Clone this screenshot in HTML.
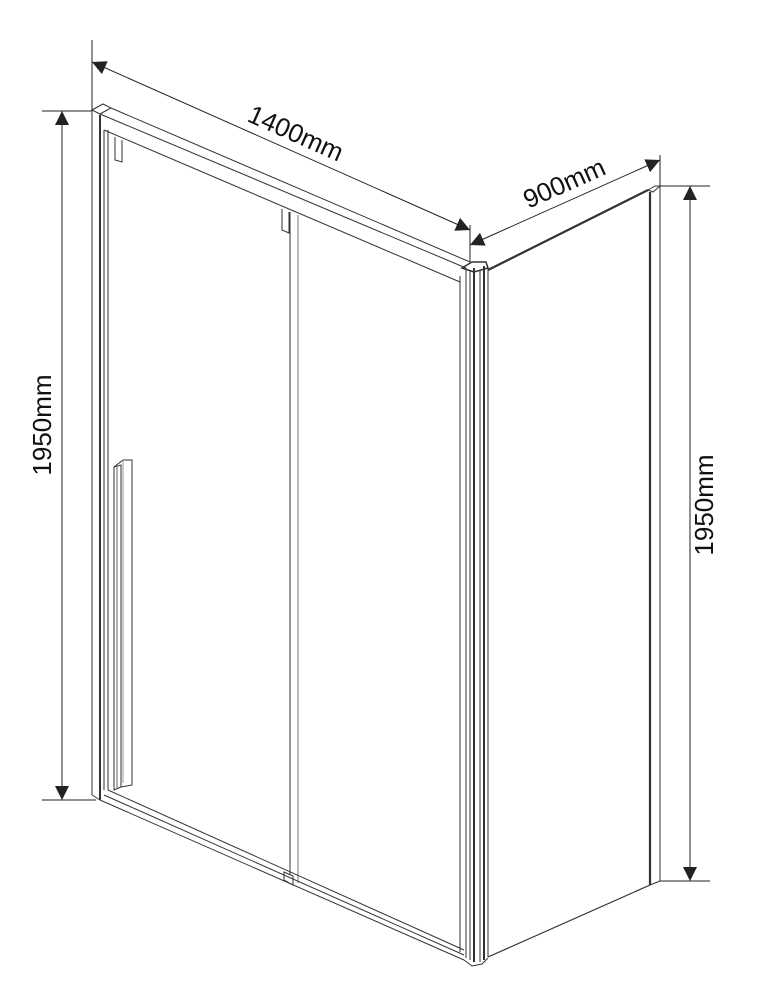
<!DOCTYPE html>
<html><head><meta charset="utf-8"><style>
html,body{margin:0;padding:0;background:#fff;}
svg{display:block}
text{font-family:"Liberation Sans",Arial,sans-serif;font-size:26px;fill:#111}
</style></head><body>
<svg width="764" height="996" viewBox="0 0 764 996" xmlns="http://www.w3.org/2000/svg">
<defs>
<marker id="b" viewBox="0 0 10 10" refX="10" refY="5" markerWidth="22" markerHeight="14" markerUnits="userSpaceOnUse" orient="auto-start-reverse"><path d="M0,0 L10,5 L0,10 z" fill="#222"/></marker>
</defs>
<g stroke="#222" fill="none" stroke-width="1">
<line x1="92" y1="40" x2="92" y2="110"/>
<line x1="470" y1="225" x2="470" y2="262"/>
<line x1="660" y1="155" x2="660" y2="186"/>
<line x1="42" y1="111" x2="92" y2="111"/>
<line x1="42" y1="800" x2="96" y2="800"/>
<line x1="660" y1="186" x2="710" y2="186"/>
<line x1="660" y1="881" x2="710" y2="881"/>
<line x1="92" y1="62" x2="470" y2="230" marker-start="url(#b)" marker-end="url(#b)"/>
<line x1="470" y1="245" x2="660" y2="160" marker-start="url(#b)" marker-end="url(#b)"/>
<line x1="62" y1="111" x2="62" y2="800" marker-start="url(#b)" marker-end="url(#b)"/>
<line x1="690" y1="186" x2="690" y2="881" marker-start="url(#b)" marker-end="url(#b)"/>
</g>
<g stroke="#333" fill="none" stroke-width="1">
<line x1="92" y1="110" x2="92" y2="795"/>
<line x1="92" y1="795" x2="100" y2="800"/>
<line x1="100" y1="115" x2="100" y2="800" stroke-width="2"/>
<line x1="104" y1="130" x2="104" y2="790"/>
<line x1="108" y1="130" x2="108" y2="790"/>
<path d="M92,110 L103,104 L111,108 L100,114 z"/>
<line x1="100" y1="114" x2="466" y2="268"/>
<line x1="111" y1="108" x2="470" y2="262"/>
<line x1="104" y1="130" x2="460" y2="282"/>
<path d="M115,137 L115,160 L122,162 L122,140"/>
<path d="M282,209 L282,230 L289,233 L289,212"/>
<line x1="290" y1="212" x2="290" y2="875"/>
<line x1="298" y1="215" x2="298" y2="883" stroke="#777"/>
<path d="M114,467 L114,790 L121,787 L121,465 z"/>
<path d="M114,467 L123,460 L132,460 L132,785 L121,787"/>
<line x1="123" y1="460" x2="123" y2="783" stroke="#999"/>
<line x1="117" y1="467" x2="117" y2="788" stroke="#666"/>
<line x1="100" y1="800" x2="464" y2="960"/>
<line x1="104" y1="795" x2="464" y2="955"/>
<line x1="108" y1="790" x2="464" y2="950"/>
<path d="M284,872 L284,880 L293,885 L293,876 z"/>
<line x1="460" y1="276" x2="460" y2="952"/>
<line x1="466" y1="268" x2="466" y2="958"/>
<line x1="470" y1="270" x2="470" y2="960"/>
<line x1="474" y1="268" x2="474" y2="962" stroke-width="2"/>
<line x1="480" y1="270" x2="480" y2="962"/>
<line x1="484" y1="266" x2="484" y2="960" stroke-width="2"/>
<line x1="488" y1="268" x2="488" y2="957"/>
<path d="M462,268 L472,262 L486,262 L488,268 L474,272 z" stroke-width="1.5"/>
<path d="M464,960 L472,966 L482,964 L488,958"/>
<line x1="488" y1="270" x2="648" y2="190" stroke-width="2.2"/>
<line x1="650" y1="192" x2="650" y2="885" stroke-width="2.2"/>
<line x1="660" y1="186" x2="660" y2="881"/>
<path d="M648,190 L655,186 L660,186 L653,192 z"/>
<line x1="488" y1="957" x2="650" y2="885" stroke-width="1.2"/>
<line x1="650" y1="885" x2="660" y2="881"/>
</g>
<text transform="translate(295,135) rotate(24)" text-anchor="middle" dominant-baseline="middle">1400mm</text>
<text transform="translate(565,185) rotate(-24)" text-anchor="middle" dominant-baseline="middle">900mm</text>
<text transform="translate(44,425) rotate(-90)" text-anchor="middle" dominant-baseline="middle">1950mm</text>
<text transform="translate(706,505) rotate(-90)" text-anchor="middle" dominant-baseline="middle">1950mm</text>
</svg>
</body></html>
